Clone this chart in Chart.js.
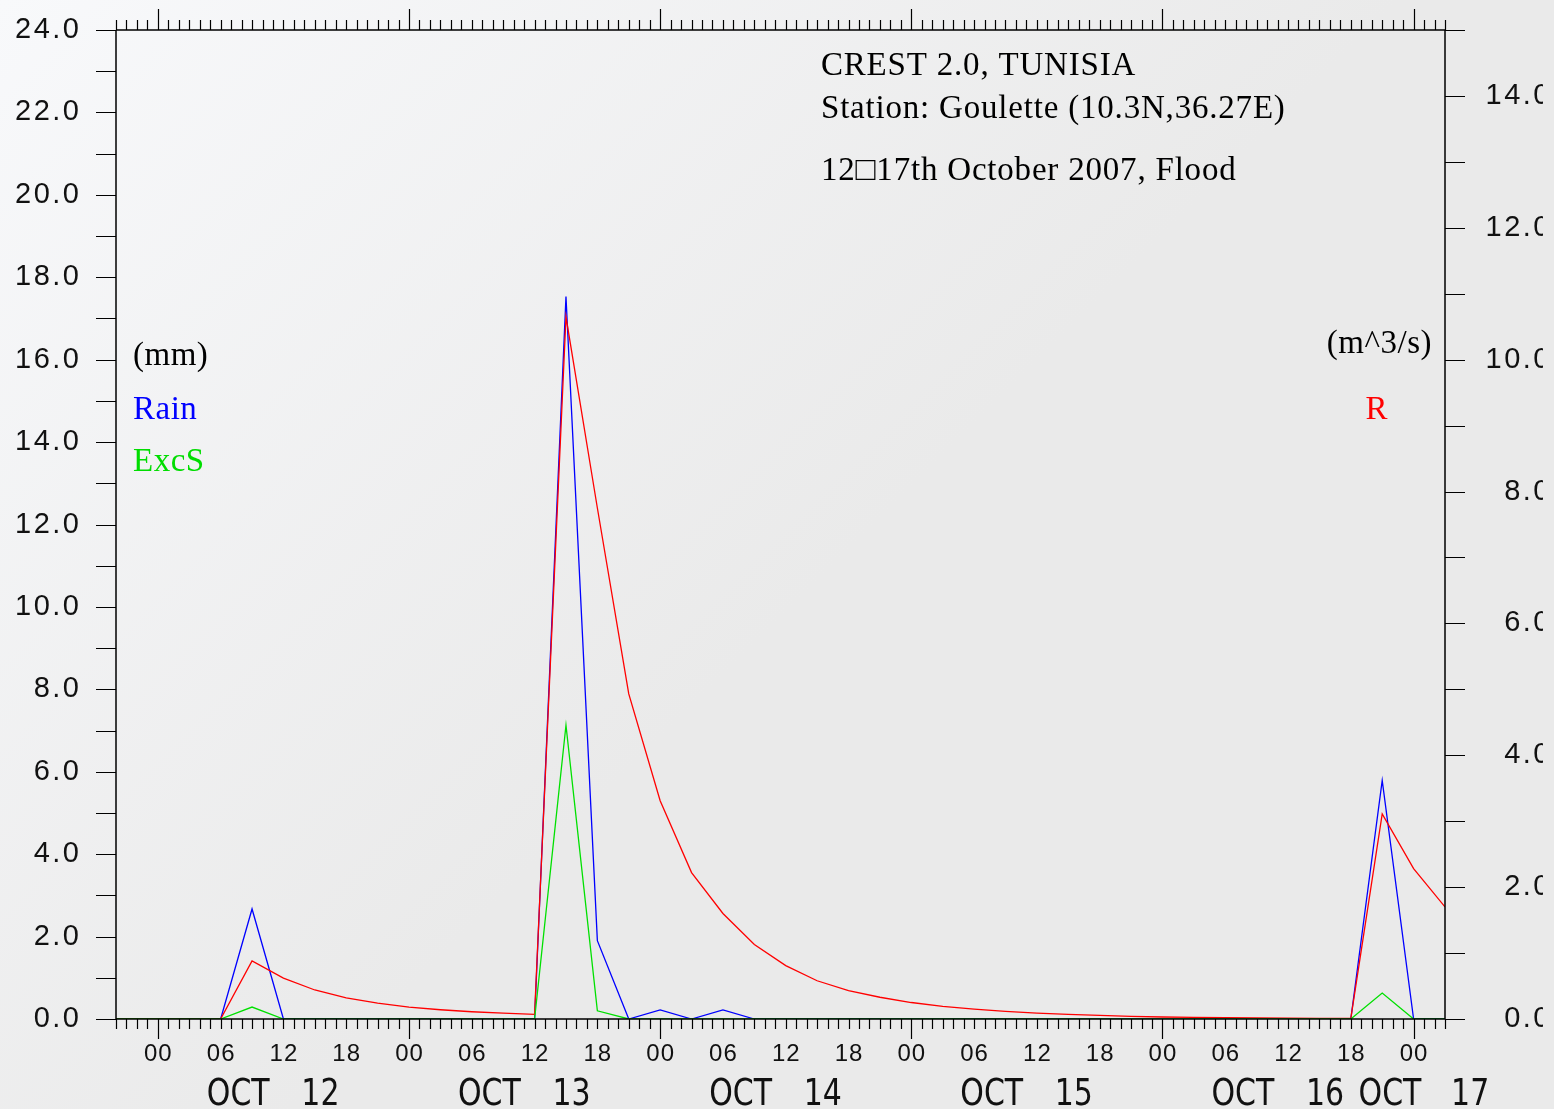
<!DOCTYPE html>
<html>
<head>
<meta charset="utf-8">
<script src="https://cdn.jsdelivr.net/npm/chart.js@4/dist/chart.umd.min.js"></script>
<style>
html,body{margin:0;padding:0;background:#ebebeb;}
#wrap{position:relative;width:1554px;height:1109px;}
canvas{display:block;}
</style>
</head>
<body>
<div id="wrap"><canvas id="c" width="1554" height="1109"></canvas></div>
<script>
// hours relative to 00Z 12 Oct 2007
const hours = [-4, -3, 0, 3, 6, 9, 12, 15, 18, 21, 24, 27, 30, 33, 36, 39, 42, 45, 48, 51, 54, 57, 60, 63, 66, 69, 72, 75, 78, 81, 84, 87, 90, 93, 96, 99, 102, 105, 108, 111, 114, 117, 120, 123];
const rain = [0, 0, 0, 0, 0, 2.67, 0, 0, 0, 0, 0, 0, 0, 0, 0, 17.53, 1.9, 0, 0.22, 0, 0.22, 0, 0, 0, 0, 0, 0, 0, 0, 0, 0, 0, 0, 0, 0, 0, 0, 0, 0, 0, 0, 5.79, 0, 0];
const excs = [0, 0, 0, 0, 0, 0.29, 0, 0, 0, 0, 0, 0, 0, 0, 0, 7.13, 0.2, 0, 0, 0, 0, 0, 0, 0, 0, 0, 0, 0, 0, 0, 0, 0, 0, 0, 0, 0, 0, 0, 0, 0, 0, 0.63, 0, 0];
const runoff = [0, 0, 0, 0, 0, 0.88, 0.62, 0.44, 0.32, 0.24, 0.18, 0.14, 0.11, 0.09, 0.07, 10.65, 7.75, 4.93, 3.31, 2.22, 1.6, 1.13, 0.81, 0.58, 0.43, 0.33, 0.25, 0.19, 0.15, 0.115, 0.09, 0.07, 0.055, 0.04, 0.03, 0.025, 0.02, 0.015, 0.012, 0.01, 0.008, 3.11, 2.28, 1.7];
const leftTicks = ['0.0','2.0','4.0','6.0','8.0','10.0','12.0','14.0','16.0','18.0','20.0','22.0','24.0'];
const rightTicks = ['0.0','2.0','4.0','6.0','8.0','10.0','12.0','14.0'];
const hourLabels = ['00','06','12','18'];
const dayLabels = [['OCT','12'],['OCT','13'],['OCT','14'],['OCT','15'],['OCT','16'],['OCT','17']];
const titleLines = ['CREST 2.0, TUNISIA','Station: Goulette (10.3N,36.27E)','12\u25A117th October 2007, Flood'];

const xy = arr => hours.map((h,i)=>({x:h,y:arr[i]}));

const bgPlugin = {
  id:'bg',
  beforeDraw(chart){
    const ctx = chart.ctx;
    ctx.save();
    const g = ctx.createLinearGradient(0,0,700,700);
    g.addColorStop(0,'#f8f9fb');
    g.addColorStop(1,'#eaeaea');
    ctx.fillStyle = g;
    ctx.fillRect(0,0,chart.width,chart.height);
    ctx.restore();
  }
};

const axesPlugin = {
  id:'axes',
  afterDraw(chart){
    const ctx = chart.ctx;
    const xs = chart.scales.x, yl = chart.scales.y, yr = chart.scales.y2;
    const a = chart.chartArea;
    ctx.save();
    ctx.strokeStyle = '#000';
    ctx.lineWidth = 1.5;
    ctx.beginPath();
    ctx.moveTo(a.left, a.top); ctx.lineTo(a.right, a.top);
    ctx.moveTo(a.left, a.bottom); ctx.lineTo(a.right, a.bottom);
    ctx.moveTo(a.left, a.top); ctx.lineTo(a.left, a.bottom);
    ctx.moveTo(a.right, a.top); ctx.lineTo(a.right, a.bottom);
    ctx.stroke();
    ctx.lineWidth = 1.2;
    ctx.beginPath();
    for(let v=0; v<=24; v++){
      const y = Math.round(yl.getPixelForValue(v))+0.5;
      ctx.moveTo(a.left-20, y); ctx.lineTo(a.left, y);
    }
    for(let v=0; v<=15; v++){
      const y = Math.round(yr.getPixelForValue(v))+0.5;
      ctx.moveTo(a.right, y); ctx.lineTo(a.right+20, y);
    }
    for(let h=-4; h<=123; h++){
      const x = Math.round(xs.getPixelForValue(h))+0.5;
      const major = (h % 24 === 0);
      ctx.moveTo(x, a.bottom); ctx.lineTo(x, a.bottom + (major?20:10));
      ctx.moveTo(x, a.top); ctx.lineTo(x, a.top - (major?21:10));
    }
    ctx.stroke();

    ctx.fillStyle = '#111';
    ctx.textBaseline = 'middle';
    ctx.font = '29px "Liberation Sans", Arial, sans-serif';
    ctx.letterSpacing = '2.5px';
    ctx.textAlign = 'right';
    leftTicks.forEach((t,i)=>{
      ctx.fillText(t, 81.5, yl.getPixelForValue(i*2));
    });
    ctx.save();
    ctx.beginPath(); ctx.rect(0,0,1543,chart.height); ctx.clip();
    rightTicks.forEach((t,i)=>{
      ctx.fillText(t, 1552, yr.getPixelForValue(i*2));
    });
    ctx.restore();

    ctx.font = '24px "Liberation Sans", Arial, sans-serif';
    ctx.letterSpacing = '1px';
    ctx.textAlign = 'center';
    for(let h=0; h<=120; h+=6){
      const lbl = hourLabels[(h%24)/6];
      ctx.fillText(lbl, xs.getPixelForValue(h)+0.5, 1054);
    }
    ctx.letterSpacing = '0px';
    ctx.font = '37px "Liberation Sans Narrow", "DejaVu Sans Condensed", sans-serif';
    ctx.textAlign = 'left';
    ctx.textBaseline = 'alphabetic';
    const drawNarrow = (t, x, y) => {
      ctx.save();
      ctx.translate(x, y);
      ctx.scale(0.9, 1);
      ctx.fillText(t, 0, 0);
      ctx.restore();
    };
    dayLabels.forEach((d,i)=>{
      const x0 = xs.getPixelForValue(i*24);
      if(i < 5){
        drawNarrow(d[0], x0+49, 1105);
        drawNarrow(d[1], x0+143.5, 1105);
      } else {
        drawNarrow(d[0], x0-55, 1105);
        drawNarrow(d[1], x0+37.5, 1105);
      }
    });

    ctx.fillStyle = '#000';
    ctx.font = '33px "Liberation Serif", "Times New Roman", serif';
    ctx.letterSpacing = '0.8px';
    ctx.fillText(titleLines[0], 821, 75);
    ctx.fillText(titleLines[1], 821, 118);
    ctx.fillText(titleLines[2], 821, 180);

    ctx.letterSpacing = '0.5px';
    ctx.fillStyle = '#000';
    ctx.fillText('(mm)', 133, 365);
    ctx.fillStyle = '#0000ff';
    ctx.fillText('Rain', 133, 419);
    ctx.fillStyle = '#00dd00';
    ctx.fillText('ExcS', 133, 471);
    ctx.fillStyle = '#000';
    ctx.textAlign = 'right';
    ctx.fillText('(m^3/s)', 1432, 353);
    ctx.fillStyle = '#ff0000';
    ctx.fillText('R', 1388, 419);
    ctx.restore();
  }
};

new Chart(document.getElementById('c'), {
  type:'line',
  data:{
    datasets:[
      {label:'ExcS', data: xy(excs), borderColor:'#00e000', borderWidth:1.3, pointRadius:0, tension:0, yAxisID:'y', order:0},
      {label:'R', data: xy(runoff), borderColor:'#ff0000', borderWidth:1.3, pointRadius:0, tension:0, yAxisID:'y2', order:1},
      {label:'Rain', data: xy(rain), borderColor:'#0000ff', borderWidth:1.3, pointRadius:0, tension:0, yAxisID:'y', order:2}
    ]
  },
  options:{
    responsive:false,
    animation:false,
    devicePixelRatio:1,
    layout:{padding:{left:116, right:109, top:30, bottom:90}},
    plugins:{legend:{display:false}, tooltip:{enabled:false}},
    scales:{
      x:{type:'linear', min:-4, max:123, display:false},
      y:{type:'linear', min:0, max:24, display:false},
      y2:{type:'linear', min:0, max:15, display:false, position:'right'}
    }
  },
  plugins:[bgPlugin, axesPlugin]
});
</script>
</body>
</html>
